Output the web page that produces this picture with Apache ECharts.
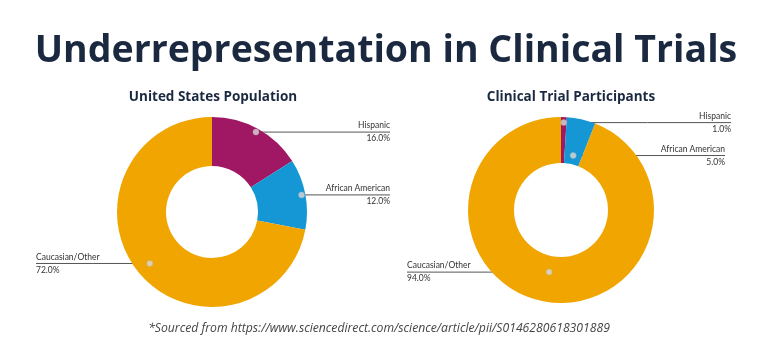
<!DOCTYPE html>
<html><head><meta charset="utf-8">
<script src="https://cdn.jsdelivr.net/npm/echarts@6/dist/echarts.min.js"></script>
<style>html,body{margin:0;padding:0;background:#fff}#c{width:772px;height:364px}</style>
</head><body><div id="c"></div>
<script>
// ---- data ----
const categories = ['Hispanic', 'African American', 'Caucasian/Other'];
const usPopulation = [16, 12, 72];
const trialParticipants = [1, 5, 94];
const chartTitle = 'Underrepresentation in Clinical Trials';
const panelTitles = ['United States Population', 'Clinical Trial Participants'];
const sourceNote = '*Sourced from https://www.sciencedirect.com/science/article/pii/S0146280618301889';

// ---- style / layout ----
const colors = ['#A01864', '#1597D6', '#F0A500'];
const FONT = 'Lato';
const HEAD_FONT = 'Open Sans';
const panels = [
  { values: usPopulation, center: [212, 212], inner: 46, outer: 95, dotFrac: [0.96, 0.96, 0.85], labelX: [390, 390, 36], titleX: 213 },
  { values: trialParticipants, center: [561, 210], inner: 47, outer: 93, dotFrac: [0.94, 0.6, 0.68], labelX: [731, 725, 407], titleX: 571 }
];

function midAngles(vals) {
  const tot = vals.reduce((a, b) => a + b, 0);
  let cum = 0;
  return vals.map(v => { const m = (cum + v / 2) / tot * 100; cum += v; return m; });
}
function dotPos(p, i) {
  const a = midAngles(p.values)[i] / 100 * 2 * Math.PI;
  const r = p.dotFrac[i] * p.outer;
  return [p.center[0] + r * Math.sin(a), p.center[1] - r * Math.cos(a)];
}

const chart = echarts.init(document.getElementById('c'), null, { renderer: 'canvas' });

const series = [];
panels.forEach((p, k) => {
  series.push({
    type: 'pie',
    center: p.center,
    radius: [p.inner, p.outer],
    startAngle: 90,
    clockwise: true,
    avoidLabelOverlap: false,
    silent: true,
    emphasis: { disabled: true },
    data: categories.map((n, i) => ({ name: n, value: p.values[i], itemStyle: { color: colors[i] } })),
    label: {
      show: true,
      position: 'outside',
      formatter: d => d.name + '\n' + d.value.toFixed(1) + '%',
      fontFamily: FONT,
      fontSize: 8.5,
      lineHeight: 13,
      color: '#333'
    },
    labelLine: { show: true, lineStyle: { color: '#555', width: 1 } },
    labelLayout: function (params) {
      const i = params.dataIndex;
      const d = dotPos(p, i);
      const x = p.labelX[i];
      const right = x > d[0];
      return {
        x: x,
        y: d[1],
        align: right ? 'right' : 'left',
        verticalAlign: 'middle',
        labelLinePoints: [[d[0], d[1]], [(d[0] + x) / 2, d[1]], [x, d[1]]]
      };
    }
  });
  const mids = midAngles(p.values);
  series.push({
    type: 'scatter',
    coordinateSystem: 'polar',
    polarIndex: k,
    silent: true,
    z: 10,
    symbol: 'circle',
    symbolSize: 6,
    itemStyle: { color: '#d9d9d9', borderColor: '#b0b0b0', borderWidth: 0.5 },
    data: p.values.map((v, i) => [p.dotFrac[i], mids[i]])
  });
});

chart.setOption({
  animation: false,
  backgroundColor: '#fff',
  title: [
    { text: chartTitle, left: 'center', top: 27, textStyle: { fontFamily: HEAD_FONT, fontSize: 37.5, fontWeight: 'bold', color: '#1b2940' } },
    { text: panelTitles[0], left: panels[0].titleX, textAlign: 'center', top: 90, padding: 0, textStyle: { fontFamily: HEAD_FONT, fontSize: 13.5, fontWeight: 'bold', color: '#1b2940' } },
    { text: panelTitles[1], left: panels[1].titleX, textAlign: 'center', top: 90, padding: 0, textStyle: { fontFamily: HEAD_FONT, fontSize: 13.5, fontWeight: 'bold', color: '#1b2940' } },
    { text: sourceNote, left: 379, textAlign: 'center', top: 323, padding: 0, textStyle: { fontFamily: HEAD_FONT, fontSize: 12.2, fontStyle: 'italic', fontWeight: 'normal', color: '#444' } }
  ],
  polar: panels.map(p => ({ center: p.center, radius: [0, p.outer] })),
  angleAxis: panels.map((p, k) => ({ polarIndex: k, type: 'value', min: 0, max: 100, startAngle: 90, clockwise: true, show: false })),
  radiusAxis: panels.map((p, k) => ({ polarIndex: k, type: 'value', min: 0, max: 1, show: false })),
  series: series
});
</script>
</body></html>
